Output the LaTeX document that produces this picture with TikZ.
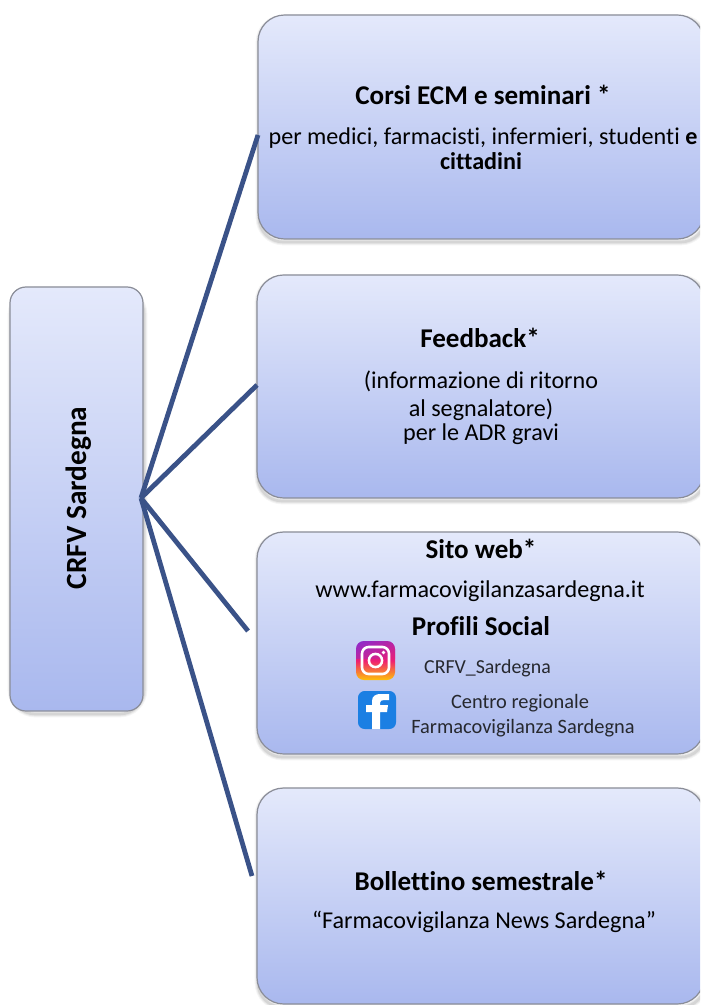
\documentclass[tikz,border=0pt]{standalone}
\usepackage{fontspec}
\setmainfont{Carlito}[Ligatures=NoCommon]
\usetikzlibrary{calc}
\definecolor{boxtop}{HTML}{E4E9FB}
\definecolor{boxbot}{HTML}{A9B8EE}
\definecolor{boxedge}{HTML}{8A8D98}
\definecolor{linkblue}{HTML}{3A5288}
\definecolor{igpurple}{HTML}{8A2BD0}
\definecolor{igpink}{HTML}{EE1F73}
\definecolor{igyellow}{HTML}{FFC107}
\definecolor{fbblue}{HTML}{1B7FE3}
\definecolor{greytext}{HTML}{26282E}
\tikzset{
  x=0.75pt,y=-0.75pt,
  panel/.style={draw=boxedge,line width=0.9pt,rounded corners=20pt,top color=boxtop,bottom color=boxbot,inner sep=0pt},
  link/.style={draw=linkblue,line width=3.6pt,line cap=butt},
  head/.style={font=\fontsize{20.3}{24}\selectfont\bfseries,text=black,inner sep=0pt},
  side/.style={font=\fontsize{22}{26}\selectfont\bfseries,text=black,inner sep=0pt},
  body/.style={font=\fontsize{18.1}{22}\selectfont,text=black,inner sep=0pt,align=center},
  small/.style={font=\fontsize{15.3}{18.5}\selectfont,text=greytext,inner sep=0pt,align=center},
}
\begin{document}
\begin{tikzpicture}
\useasboundingbox (0,0) rectangle (700,1005);
\fill[white] (0,0) rectangle (700,1005);
\begin{scope}
\clip (0,0) rectangle (700,1005);
% soft shadows
\foreach \xa/\ya/\xb/\yb in {10/287/143/711,258/15/704/239,257/275/704/498,257/532/704/754,257/788/704/1004}{
  \foreach \w/\o in {5/0.04,3.5/0.05,2/0.08}{
    \draw[line width=\w pt,draw=black,opacity=\o,rounded corners=18pt] (\xa+1,\ya+3) rectangle (\xb+1,\yb+3);
  }
}
\path[panel,rounded corners=12pt] (10,287) rectangle (143,711);
\path[panel] (258,15) rectangle (704,239);
\path[panel] (257,275) rectangle (704,498);
\path[panel] (257,532) rectangle (704,754);
\path[panel] (257,788) rectangle (704,1004);
\end{scope}
% anchors
\coordinate (hub) at (141,498);
\coordinate (corsi) at (258,135);
\coordinate (feed) at (257,385);
\coordinate (sito) at (248,631);
\coordinate (boll) at (252,876);
\draw[link] (hub) -- (corsi);
\draw[link] (hub) -- (feed);
\draw[link] (hub) -- (sito);
\draw[link] (hub) -- (boll);
% texts
\node[side,rotate=90] (crfv) at (78.5,498) {CRFV Sardegna};
\node[head] (t1) at (483,95) {Corsi ECM e seminari *};
\node[body] (t1a) at (483,138) {per medici, farmacisti, infermieri, studenti \textbf{e}};
\node[body] (t1b) at (481,161) {\textbf{cittadini}};
\node[head] (t2) at (480,338) {Feedback*};
\node[body] (t2a) at (481,381) {(informazione di ritorno};
\node[body] (t2b) at (481,410) {al segnalatore)};
\node[body] (t2c) at (481,434) {per le ADR gravi};
\node[head] (t3) at (481,549) {Sito web*};
\node[body] (t3a) at (480,591) {www.farmacovigilanzasardegna.it};
\node[head] (t3b) at (481,626) {Profili Social};
\node[small,font=\fontsize{14.9}{18.5}\selectfont] (ig) at (487.5,668) {CRFV\_Sardegna};
\node[small] (fb1) at (520,703) {Centro regionale};
\node[small] (fb2) at (523,728) {Farmacovigilanza Sardegna};
\node[head] (t4) at (481,881) {Bollettino semestrale*};
\node[body] (t4a) at (484,922) {“Farmacovigilanza News Sardegna”};
% instagram icon
\begin{scope}
\clip[rounded corners=6pt] (356,641) rectangle (395,680);
\shade[top color=igpurple,bottom color=igyellow,middle color=igpink] (356,641) rectangle (395,680);
\shade[left color=igpurple,right color=igpink,opacity=0.45] (356,641) rectangle (395,658);
\end{scope}
\draw[white,line width=1.9pt,rounded corners=5pt] (362,647) rectangle (389,674);
\draw[white,line width=1.9pt] (375.5,660.5) circle (6.6);
\fill[white] (383.5,652.5) circle (1.9);
% facebook icon
\fill[fbblue,rounded corners=5pt] (358,691) rectangle (396,729);
\fill[white] (372,729) -- (372,712) -- (366,712) -- (366,705) -- (372,705) -- (372,701)
  .. controls (372,696) and (376,694) .. (380,694) -- (389,694) -- (389,700) -- (384,700)
  .. controls (381.5,700) and (380,701) .. (380,703) -- (380,705) -- (388,705) -- (387,712) -- (380,712) -- (380,729) -- cycle;
\end{tikzpicture}
\end{document}
